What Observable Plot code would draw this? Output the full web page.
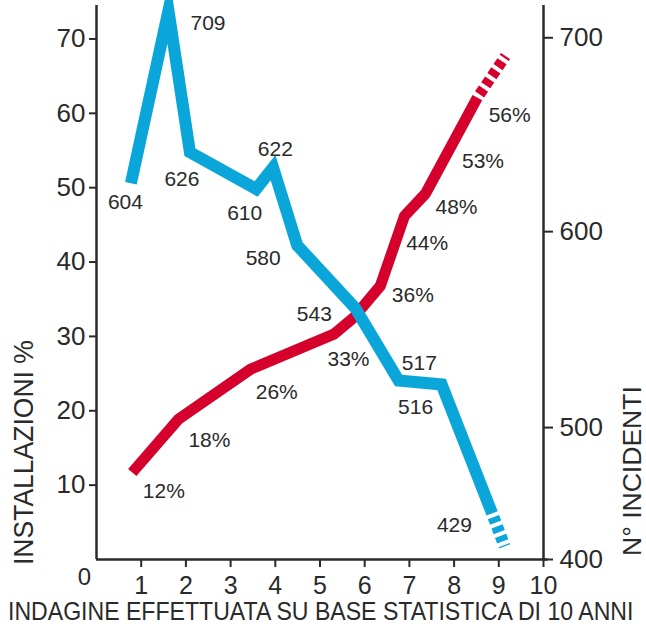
<!DOCTYPE html>
<html><head><meta charset="utf-8">
<script src="https://cdn.jsdelivr.net/npm/d3@7"></script>
<script src="https://cdn.jsdelivr.net/npm/@observablehq/plot@0.6"></script>
<style>
html,body{margin:0;padding:0;background:#fff;overflow:hidden}
svg{display:block}
</style>
</head><body><div id="chart"></div>
<script>
// ---- data ----
// x: position along the 0–10 axis (survey years)
const xTicks = [1, 2, 3, 4, 5, 6, 7, 8, 9, 10];
const leftTicks = [10, 20, 30, 40, 50, 60, 70];
const rightTicks = [400, 500, 600, 700];
// the right axis is not linear: where each right tick sits, in left-axis units
const rightInLeft = [0, 17.74, 44.09, 70.16];

// red: installations %, read against the left axis
const redX = [0.80, 1.84, 3.45, 5.31, 5.75, 6.35, 6.89, 7.36, 8.52];
const redY = [11.7, 18.9, 25.6, 30.3, 32.5, 36.8, 46.2, 49.2, 62.1];
const redTrendX = [8.52, 9.15];
const redTrendY = [62.1, 67.7];
const redLabels = ["12%", "18%", "26%", "33%", "36%", "44%", "48%", "53%", "56%"];
const redLabelAt = [0, 1, 2, 4, 5, 6, 7, 7, 8];

// blue: number of incidents, read against the right axis
const blueX = [0.77, 1.61, 2.09, 3.57, 3.95, 4.49, 5.79, 6.76, 7.72, 8.85];
const blueY = [625, 714, 641, 622, 633, 593, 561, 524, 522, 435];
const blueTrendX = [8.85, 9.13];
const blueTrendY = [435, 410];
const blueLabels = ["604", "709", "626", "610", "622", "580", "543", "517", "516", "429"];
const blueLabelAt = [0, 1, 2, 3, 4, 5, 6, 7, 8, 9];

// ---- label offsets (style) ----
const redOff = [[31.6,18.3],[30.7,21.7],[26,22.7],[-5,41.3],[32.5,9],[22.7,27.5],[31,13.4],[57.5,-32.5],[32.3,17.3]];
const blueOff = [[-5.5,18.7],[39.5,12.7],[-8,27],[-11.4,24],[2.3,-18.4],[-34,12.5],[-41,6],[20.7,-16.8],[-26,23],[-37.7,12]];

const RED = "#d5002b", BLUE = "#0aa6da", INK = "#2a2a2a";
const r2l = d3.scaleLinear().domain(rightTicks).range(rightInLeft);

const redPts = redX.map((x, i) => ({x, y: redY[i]}));
const redTrend = redTrendX.map((x, i) => ({x, y: redTrendY[i]}));
const bluePts = blueX.map((x, i) => ({x, y: r2l(blueY[i])}));
const blueTrend = blueTrendX.map((x, i) => ({x, y: r2l(blueTrendY[i])}));

const labelMarks = [
  ...redLabels.map((t, i) => Plot.text([redPts[redLabelAt[i]]], {
    x: "x", y: "y", text: () => t, dx: redOff[i][0], dy: redOff[i][1],
    fontSize: 21, fill: INK })),
  ...blueLabels.map((t, i) => Plot.text([bluePts[blueLabelAt[i]]], {
    x: "x", y: "y", text: () => t, dx: blueOff[i][0], dy: blueOff[i][1],
    fontSize: 21, fill: INK }))
];

const chart = Plot.plot({
  width: 646, height: 633,
  marginLeft: 96, marginRight: 103, marginTop: 5, marginBottom: 74,
  style: {fontFamily: "'Liberation Sans', Arial, sans-serif", background: "#fff", color: INK},
  x: {domain: [0, 10]},
  y: {domain: [0, 74.5]},
  marks: [
    Plot.axisY({anchor: "left", ticks: leftTicks, tickSize: 7, tickPadding: 4,
      fontSize: 26, label: null, stroke: INK, strokeWidth: 2}),
    Plot.axisY({anchor: "right", ticks: rightTicks.map(r2l), tickSize: 9, tickPadding: 7,
      fontSize: 26, label: null, stroke: INK, strokeWidth: 2,
      tickFormat: d => String(rightTicks[rightTicks.findIndex(t => Math.abs(r2l(t) - d) < 1e-6)])}),
    Plot.axisX({anchor: "bottom", ticks: xTicks, tickSize: 8, tickPadding: 9,
      fontSize: 25, label: null, stroke: INK, strokeWidth: 2}),
    Plot.text([{x: 0, y: 0}], {x: "x", y: "y", text: () => "0", dx: -12, dy: 18,
      fontSize: 24, fill: INK}),
    Plot.ruleX([0, 10], {stroke: INK, strokeWidth: 2.5}),
    Plot.ruleY([0], {x1: 0, x2: 10.1, stroke: INK, strokeWidth: 2.5}),
    Plot.line(redPts, {x: "x", y: "y", stroke: RED, strokeWidth: 11,
      strokeLinejoin: "round", strokeLinecap: "butt"}),
    Plot.line(redTrend, {x: "x", y: "y", stroke: RED, strokeWidth: 11,
      strokeLinecap: "butt", strokeDasharray: "7 4", strokeDashoffset: 7}),
    Plot.line(bluePts, {x: "x", y: "y", stroke: BLUE, strokeWidth: 12,
      strokeLinejoin: "miter", strokeMiterlimit: 10, strokeLinecap: "butt"}),
    Plot.line(blueTrend, {x: "x", y: "y", stroke: BLUE, strokeWidth: 12,
      strokeLinecap: "butt", strokeDasharray: "6 4", strokeDashoffset: 6}),
    ...labelMarks
  ]
});

document.getElementById("chart").append(chart);

// condensed titles: scale horizontally so each spans the same length as in the reference
const svg = d3.select(chart);
function title(str, size, len, tx, ty, rot) {
  const t = svg.append("text")
    .attr("text-anchor", "start").attr("font-size", size).attr("fill", INK)
    .text(str);
  const w = t.node().getComputedTextLength();
  const s = w > 0 ? len / w : 1;
  t.attr("transform", `translate(${tx},${ty}) rotate(${rot}) scale(${s},1)`);
}
title("INDAGINE EFFETTUATA SU BASE STATISTICA DI 10 ANNI", 25, 626, 8, 620, 0);
title("INSTALLAZIONI %", 27, 225, 33, 565, -90);
title("N° INCIDENTI", 26, 170, 641, 556, -90);
</script>
</body></html>
